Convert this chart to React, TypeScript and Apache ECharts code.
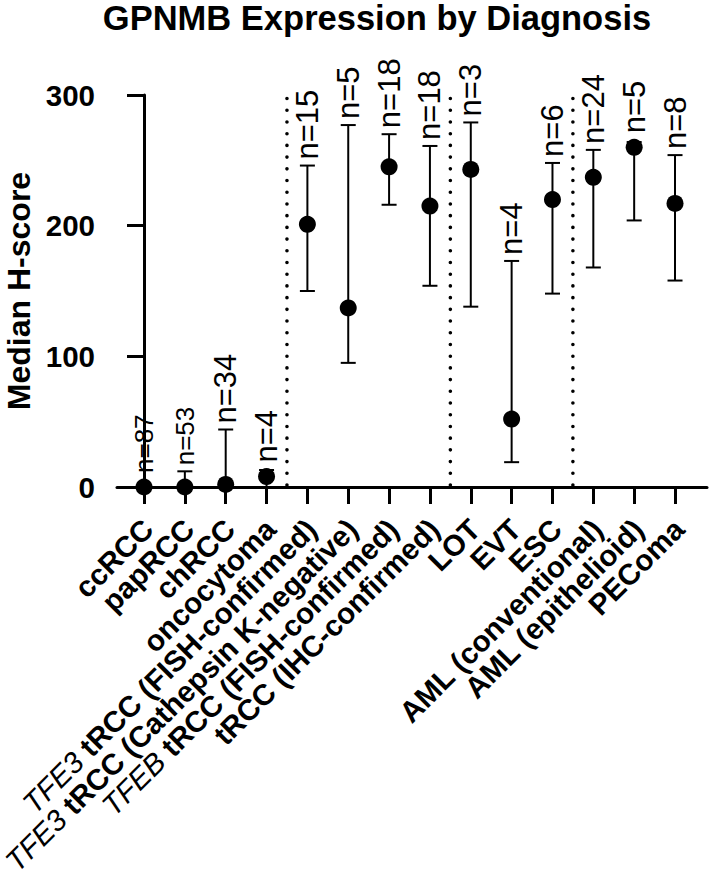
import React, { useEffect, useRef } from 'react';
import * as echarts from 'echarts';

const FONT = '"Liberation Sans", Arial, Helvetica, sans-serif';

const titleText = 'GPNMB Expression by Diagnosis';
const yAxisName = 'Median H-score';

// gene prefix (italic) and remaining label text (bold)
const categoryGene = ['', '', '', '', 'TFE3', 'TFE3', 'TFEB', '', '', '', '', '', '', ''];
const categoryRest = [
  'ccRCC',
  'papRCC',
  'chRCC',
  'oncocytoma',
  'tRCC (FISH-confirmed)',
  'tRCC (Cathepsin K-negative)',
  'tRCC (FISH-confirmed)',
  'tRCC (IHC-confirmed)',
  'LOT',
  'EVT',
  'ESC',
  'AML (conventional)',
  'AML (epithelioid)',
  'PEComa',
];

const medians = [0, 0, 2, 8, 201, 137, 245, 215, 243, 52, 220, 237, 260, 217];
const lowers = [0, 0, 0, 0, 150, 95, 216, 154, 138, 19, 148, 168, 204, 158];
const uppers = [0, 12, 44, 13, 246, 277, 270, 261, 279, 173, 248, 258, 264, 254];
const nCounts = [87, 53, 34, 4, 15, 5, 18, 18, 3, 4, 6, 24, 5, 8];

const dividerPositions = [3.5, 7.5, 10.5];
const yTickValues = [0, 100, 200, 300];

// the first two "n=" annotations are set smaller in the reference
const nLabelFontSize = (i: number) => (i < 2 ? 26 : 31);

export default function App() {
  const ref = useRef<HTMLDivElement>(null);

  useEffect(() => {
    if (!ref.current) return;
    const chart = echarts.init(ref.current, null, { renderer: 'svg' });
    const idx = categoryRest.map((_, i) => i);

    const errData = idx.map((i) => [i, medians[i], lowers[i], uppers[i], nCounts[i]]);
    const divData = dividerPositions.map((x) => [x, 0]);

    // plot area
    const gLeft = 117;
    const gRight = 2;
    const gTop = 95;
    const gBottom = 384;
    const xMin = -0.661;
    const xMax = 13.783;
    // second (label-only) grid whose category bands are centred on the same positions
    const plotW = 709 - gLeft - gRight;
    const unit = plotW / (xMax - xMin);
    const labelShift = 4;
    const bandLeft = gLeft + (-0.5 - xMin) * unit + labelShift;
    const bandRight = gLeft + (categoryRest.length - 0.5 - xMin) * unit + labelShift;

    const option: any = {
      animation: false,
      backgroundColor: '#fff',
      title: {
        text: titleText,
        left: 377,
        top: 0,
        textAlign: 'center',
        padding: 0,
        textStyle: {
          fontSize: 34.5,
          lineHeight: 35,
          fontWeight: 'bold',
          color: '#000',
          fontFamily: FONT,
        },
      },
      grid: [
        {
          left: gLeft,
          right: gRight,
          top: gTop,
          bottom: gBottom,
          containLabel: false,
          outerBoundsMode: 'none',
        },
        {
          left: bandLeft,
          right: 709 - bandRight,
          top: gTop,
          bottom: gBottom,
          containLabel: false,
          outerBoundsMode: 'none',
        },
      ],
      xAxis: [
        {
          type: 'value',
          gridIndex: 0,
          min: xMin,
          max: xMax,
          splitLine: { show: false },
          axisLine: { show: true, lineStyle: { color: '#000', width: 3 } },
          axisTick: {
            show: true,
            inside: false,
            length: 17,
            customValues: idx,
            lineStyle: { color: '#000', width: 3 },
          },
          axisLabel: { show: false },
        },
        {
          type: 'category',
          gridIndex: 1,
          data: idx.map((i) => String(i)),
          boundaryGap: true,
          axisLine: { show: false },
          axisTick: { show: false },
          splitLine: { show: false },
          axisLabel: {
            show: true,
            interval: 0,
            rotate: 45,
            margin: 37,
            color: '#000',
            fontSize: 29.5,
            lineHeight: 28,
            fontWeight: 'bold',
            fontFamily: FONT,
            formatter: (v: string) => {
              const i = Number(v);
              const g = categoryGene[i];
              return g ? `{i|${g}} {b|${categoryRest[i]}}` : `{b|${categoryRest[i]}}`;
            },
            rich: {
              b: { fontSize: 29.5, lineHeight: 28, fontWeight: 'bold', color: '#000', fontFamily: FONT },
              i: {
                fontSize: 29.5,
                lineHeight: 28,
                fontWeight: 'normal',
                fontStyle: 'italic',
                color: '#000',
                fontFamily: FONT,
              },
            },
          },
        },
      ],
      yAxis: [
        {
          type: 'value',
          gridIndex: 0,
          min: 0,
          max: 300,
          interval: 100,
          name: yAxisName,
          nameLocation: 'middle',
          nameGap: 80,
          nameRotate: 90,
          nameTextStyle: { fontSize: 32, fontWeight: 'bold', color: '#000', fontFamily: FONT },
          splitLine: { show: false },
          axisLine: { show: true, lineStyle: { color: '#000', width: 3 } },
          axisTick: { show: true, inside: false, length: 17, lineStyle: { color: '#000', width: 3 } },
          axisLabel: {
            margin: 22,
            color: '#000',
            fontSize: 29.5,
            fontWeight: 'bold',
            fontFamily: FONT,
            customValues: yTickValues,
            showMinLabel: true,
            showMaxLabel: true,
          },
        },
        {
          type: 'value',
          gridIndex: 1,
          min: 0,
          max: 300,
          show: false,
        },
      ],
      series: [
        {
          type: 'custom',
          name: 'dividers',
          xAxisIndex: 0,
          yAxisIndex: 0,
          data: divData,
          encode: { x: 0, y: 1 },
          clip: false,
          z: 1,
          renderItem: (params: any, api: any) => {
            const x = api.value(0);
            const p0 = api.coord([x, 0]);
            const p1 = api.coord([x, 300]);
            return {
              type: 'line',
              shape: { x1: p0[0], y1: p0[1] - 2, x2: p1[0], y2: p1[1] },
              style: { stroke: '#000', lineWidth: 3.6, lineDash: [0.01, 11.7], lineCap: 'round' },
            };
          },
        },
        {
          type: 'custom',
          name: 'errors',
          xAxisIndex: 0,
          yAxisIndex: 0,
          data: errData,
          encode: { x: 0, y: 1 },
          clip: false,
          z: 2,
          renderItem: (params: any, api: any) => {
            const i = params.dataIndex;
            const x = api.value(0);
            const med = api.coord([x, api.value(1)]);
            const lo = api.coord([x, api.value(2)]);
            const hi = api.coord([x, api.value(3)]);
            const n = api.value(4);
            const cx = med[0];
            const hw = 7.5;
            const children: any[] = [];
            const st = { stroke: '#000', lineWidth: 2 };
            if (lo[1] - hi[1] > 0.5) {
              children.push({ type: 'line', shape: { x1: cx, y1: lo[1], x2: cx, y2: hi[1] }, style: st });
              children.push({ type: 'line', shape: { x1: cx - hw, y1: lo[1], x2: cx + hw, y2: lo[1] }, style: st });
              children.push({ type: 'line', shape: { x1: cx - hw, y1: hi[1], x2: cx + hw, y2: hi[1] }, style: st });
            }
            const topY = Math.min(hi[1], med[1] - 8) - 6;
            children.push({
              type: 'text',
              x: cx,
              y: topY,
              rotation: Math.PI / 2,
              style: {
                text: 'n=' + n,
                fill: '#000',
                fontSize: nLabelFontSize(i),
                fontFamily: FONT,
                fontWeight: 'normal',
                align: 'left',
                verticalAlign: 'middle',
              },
            });
            return { type: 'group', children };
          },
        },
        {
          type: 'scatter',
          name: 'median',
          xAxisIndex: 0,
          yAxisIndex: 0,
          data: idx.map((i) => [i, medians[i]]),
          symbol: 'circle',
          symbolSize: 17,
          itemStyle: { color: '#000', opacity: 1 },
          clip: false,
          z: 3,
        },
      ],
    };

    chart.setOption(option);
    return () => chart.dispose();
  }, []);

  return (
    <div
      ref={ref}
      style={{ position: 'fixed', left: 0, top: 0, width: 709, height: 871, background: '#fff' }}
    />
  );
}
